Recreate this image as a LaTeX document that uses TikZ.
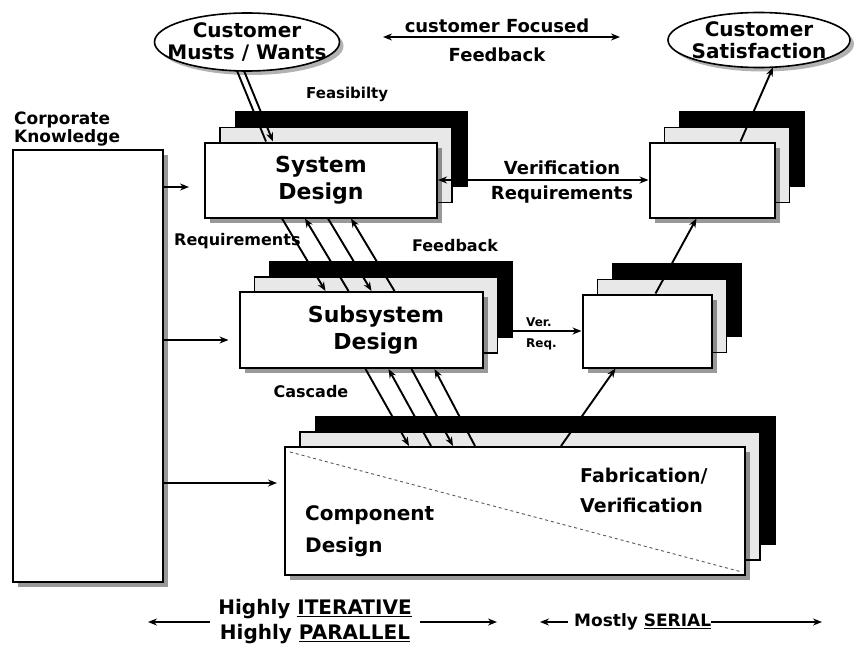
\documentclass[tikz,border=0pt]{standalone}
\usepackage{fontspec}
\setmainfont{DejaVu Sans}
\usetikzlibrary{arrows.meta,shapes.geometric,shadows,calc}

\tikzset{
  backbox/.style={rectangle,fill=black,draw=black,inner sep=0},
  midbox/.style={rectangle,fill=gray!18,draw=black,line width=1.2pt,inner sep=0},
  frontbox/.style={rectangle,fill=white,draw=black,line width=2pt,inner sep=0,align=center,
    font=\fontsize{22}{27}\selectfont\bfseries,
    drop shadow={shadow xshift=5pt,shadow yshift=-5pt,fill=black,opacity=0.4}},
  oval/.style={ellipse,fill=white,draw=black,line width=1.6pt,inner sep=0,
    drop shadow={shadow xshift=4pt,shadow yshift=-4pt,fill=black,opacity=0.3}},
  lbl/.style={inner sep=0,align=center,font=\fontsize{16}{18}\selectfont\bfseries},
  arr/.style={-{Stealth[length=9pt,width=7pt]},line width=1.9pt},
  twoway/.style={{Stealth[length=9pt,width=7pt]}-{Stealth[length=9pt,width=7pt]},line width=1.9pt}
}

\begin{document}
\begin{tikzpicture}[x=1pt,y=-1pt]
  \useasboundingbox (0,0) rectangle (856,658);

  % stacks of boxes
  \foreach \n/\x/\y/\w/\h/\txt in {sys/321/180/232/75/{System\\Design},
      sub/361/330/243/76/{\hspace*{30pt}Subsystem\\\hspace*{30pt}Design}, cmp/515/511/460/128/{},
      vtop/712/180/125/75/{}, vmid/647/331/129/73/{}} {
    \node[backbox,minimum width=\w,minimum height=\h] (\n3) at (\x+30,\y-31) {};
    \node[midbox,minimum width=\w,minimum height=\h] (\n2) at (\x+15,\y-15) {};
    \node[frontbox,minimum width=\w,minimum height=\h] (\n) at (\x,\y) {\txt};
  }

  \node[frontbox,minimum width=150,minimum height=432] (corp) at (88,366) {};
  \node[lbl,align=left,anchor=south west,font=\fontsize{17}{16}\selectfont\bfseries] (corplbl) at (14,146) {Corporate\\Knowledge};

  \node[oval,minimum width=185,minimum height=58] (musts) at (247,42) {};
  \node[lbl,font=\fontsize{20}{22}\selectfont\bfseries] (mustslbl) at (musts) {Customer\\Musts / Wants};
  \node[oval,minimum width=182,minimum height=55] (sat) at (759,40) {};
  \node[lbl,font=\fontsize{20}{22}\selectfont\bfseries] (satlbl) at (sat) {Customer\\Satisfaction};

  % customer focused feedback
  \coordinate (fbL) at (383,37);
  \coordinate (fbR) at (620,37);
  \draw[twoway] (fbL) -- (fbR);
  \node[lbl,anchor=base,font=\fontsize{18}{20}\selectfont\bfseries] (cfocus) at (497,33) {customer Focused};
  \node[lbl,anchor=base,font=\fontsize{18}{20}\selectfont\bfseries] (cfeed) at (497,62) {Feedback};

  % corporate knowledge into the design levels
  \coordinate (k1) at ($(sys.west)+(-15,7)$);
  \coordinate (k2) at ($(sub.west)+(-10,10)$);
  \coordinate (k3) at ($(cmp.west)+(-7,-28)$);
  \foreach \k in {k1,k2,k3}
    \draw[arr] (corp.east |- \k) -- (\k);

  % musts/wants and feasibility
  \draw[line width=1.9pt] ($(musts.south)+(-10,-1)$) -- ($(sys.north west)+(62,0)$);
  \draw[arr] ($(musts.south)+(-3,-1)$) -- ($(sys.north west)+(69,0)$);
  \node[lbl,anchor=west,font=\fontsize{15}{17}\selectfont\bfseries] (feas) at (306,94) {Feasibilty};

  % verification requirements
  \draw[twoway] (sys.east) -- (vtop.west);
  \node[lbl,font=\fontsize{18}{25}\selectfont\bfseries] (verreq) at (562,182) {Verification\\Requirements};
  \draw[arr] (sub3.east |- vmid.west) -- (vmid.west);
  \node[lbl,align=left,anchor=west,font=\fontsize{12}{21}\selectfont\bfseries] (vr) at (526,334) {Ver.\\Req.};

  % requirements / feedback between levels
  \foreach \k in {0,2} {
    \draw[arr] ($(sys.south west)+({78+23*\k},0)$) -- ($(sub.north west)+({87+23*\k},0)$);
    \draw[arr] ($(sub.south west)+({127+23*\k},0)$) -- ($(cmp.north west)+({125+22*\k},0)$);
  }
  \foreach \k in {1,3} {
    \draw[arr] ($(sub.north west)+({87+23*\k},0)$) -- ($(sys.south west)+({78+23*\k},0)$);
    \draw[arr] ($(cmp.north west)+({125+22*\k},0)$) -- ($(sub.south west)+({127+23*\k},0)$);
  }
  \node[lbl,anchor=west] (req) at (174,241) {Requirements};
  \node[lbl] (feed) at (455,246) {Feedback};
  \node[lbl] (casc) at (311,392) {Cascade};

  % verification chain up to satisfaction
  \draw[arr] ($(cmp.north west)+(277,0)$) -- ($(vmid.south west)+(34,0)$);
  \draw[arr] ($(vmid.north west)+(74,0)$) -- ($(vtop.south west)+(48,0)$);
  \draw[arr] ($(vtop.north west)+(92,0)$) -- ($(sat.south)+(14,-1)$);

  % component design / fabrication
  \draw[dashed,black!65,line width=0.9pt] ($(cmp.north west)+(6,6)$) -- ($(cmp.south east)+(-4,-4)$);
  \node[lbl,align=left,anchor=north west,font=\fontsize{20}{32}\selectfont\bfseries] (comp) at (305,505) {Component\\Design};
  \node[lbl,align=left,anchor=north west,font=\fontsize{19}{30}\selectfont\bfseries] (fab) at (580,468) {Fabrication/\\Verification};

  % bottom scale
  \node[lbl,font=\fontsize{20}{25}\selectfont\bfseries] (iter) at (315,622) {Highly \underline{ITERATIVE}\\Highly \underline{PARALLEL}};
  \coordinate (iL) at (148,622);
  \coordinate (iR) at (497,622);
  \draw[arr] (iter.west |- iL) ++(-8,0) -- (iL);
  \draw[arr] (iter.east |- iR) ++(8,0) -- (iR);
  \node[lbl,anchor=west,font=\fontsize{17}{20}\selectfont\bfseries] (serial) at (574,622) {Mostly \underline{SERIAL}};
  \coordinate (sL) at (540,622);
  \coordinate (sR) at (822,622);
  \draw[arr] (serial.west) ++(-6,0) -- (sL);
  \draw[arr] (serial.east) -- (sR);
\end{tikzpicture}
\end{document}
